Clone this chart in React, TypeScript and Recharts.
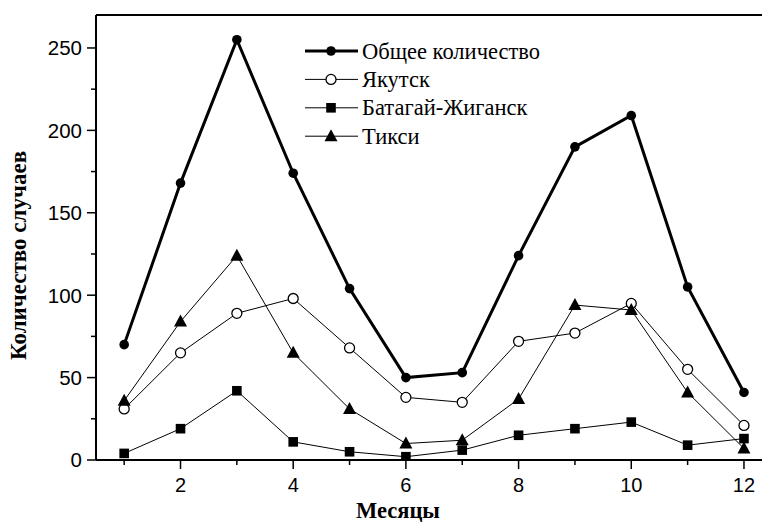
import React from 'react';
import { LineChart, Line, XAxis, YAxis, Legend, ReferenceLine, Label } from 'recharts';

const months = [1, 2, 3, 4, 5, 6, 7, 8, 9, 10, 11, 12];
const total = [70, 168, 255, 174, 104, 50, 53, 124, 190, 209, 105, 41];
const yakutsk = [31, 65, 89, 98, 68, 38, 35, 72, 77, 95, 55, 21];
const batagay = [4, 19, 42, 11, 5, 2, 6, 15, 19, 23, 9, 13];
const tiksi = [36, 84, 124, 65, 31, 10, 12, 37, 94, 91, 41, 7];

const xMajor = [2, 4, 6, 8, 10, 12];
const yTicks = [0, 25, 50, 75, 100, 125, 150, 175, 200, 225, 250];
const yMajor = [0, 50, 100, 150, 200, 250];

const seriesNames = ['Общее количество', 'Якутск', 'Батагай-Жиганск', 'Тикси'];

const data = months.map((m, i) => ({
  month: m,
  total: total[i],
  yakutsk: yakutsk[i],
  batagay: batagay[i],
  tiksi: tiksi[i],
}));

const SERIF = '"Liberation Serif", "Times New Roman", serif';
const SANS = '"Liberation Sans", Arial, sans-serif';

type Kind = 'filled' | 'open' | 'square' | 'triangle';

const Marker = ({ cx, cy, kind }: { cx: number; cy: number; kind: Kind }) => {
  if (cx == null || cy == null) return null;
  if (kind === 'filled') return <circle cx={cx} cy={cy} r={4.8} fill="#000" />;
  if (kind === 'open')
    return <circle cx={cx} cy={cy} r={5} fill="#fff" stroke="#000" strokeWidth={1.3} />;
  if (kind === 'square') return <rect x={cx - 4.8} y={cy - 4.8} width={9.6} height={9.6} fill="#000" />;
  return (
    <polygon
      points={`${cx},${cy - 7} ${cx - 6.5},${cy + 5} ${cx + 6.5},${cy + 5}`}
      fill="#000"
    />
  );
};

const makeDot = (kind: Kind) => (props: any) => (
  <Marker key={`${kind}-${props.index}`} cx={props.cx} cy={props.cy} kind={kind} />
);

const XTick = (props: any) => {
  const { x, y, payload } = props;
  const major = xMajor.includes(payload.value);
  return (
    <g>
      <line x1={x} x2={x} y1={y} y2={y + (major ? 9 : 5)} stroke="#000" strokeWidth={1.5} />
      {major && (
        <text x={x} y={y + 32} textAnchor="middle" fontSize={20} fontFamily={SANS} fill="#000">
          {payload.value}
        </text>
      )}
    </g>
  );
};

const YTick = (props: any) => {
  const { x, y, payload } = props;
  const major = yMajor.includes(payload.value);
  return (
    <g>
      <line x1={x} x2={x - (major ? 9 : 5)} y1={y} y2={y} stroke="#000" strokeWidth={1.5} />
      {major && (
        <text x={x - 14} y={y} dy="0.36em" textAnchor="end" fontSize={20.5} fontFamily={SANS} fill="#000">
          {payload.value}
        </text>
      )}
    </g>
  );
};

const legendItems: { name: string; kind: Kind; width: number }[] = [
  { name: seriesNames[0], kind: 'filled', width: 3 },
  { name: seriesNames[1], kind: 'open', width: 1 },
  { name: seriesNames[2], kind: 'square', width: 1 },
  { name: seriesNames[3], kind: 'triangle', width: 1 },
];

const renderLegend = () => (
  <svg width={270} height={120} style={{ display: 'block' }}>
    {legendItems.map((it, i) => {
      const cy = 14 + i * 28.4;
      return (
        <g key={it.name}>
          <line x1={2} x2={55} y1={cy} y2={cy} stroke="#000" strokeWidth={it.width} />
          <Marker cx={28} cy={cy} kind={it.kind} />
          <text x={59} y={cy} dy="0.34em" fontSize={22.5} fontFamily={SERIF} fill="#000">
            {it.name}
          </text>
        </g>
      );
    })}
  </svg>
);

export default function App() {
  return (
    <div style={{ position: 'absolute', left: 0, top: 0, width: 763, height: 522, background: '#fff' }}>
      <LineChart
        width={763}
        height={522}
        data={data}
        margin={{ top: 15, right: 1, left: 0, bottom: 0 }}
      >
        <XAxis
          dataKey="month"
          type="number"
          domain={[0.5, 12.32]}
          allowDataOverflow
          ticks={months}
          interval={0}
          height={62}
          tickSize={0}
          tickMargin={0}
          tickLine={false}
          axisLine={{ stroke: '#000', strokeWidth: 2 }}
          tick={<XTick />}
        >
          <Label
            content={(p: any) => {
              const vb = p.viewBox || {};
              return (
                <text
                  x={vb.x + vb.width / 2 - 31}
                  y={vb.y + 58}
                  textAnchor="middle"
                  fontSize={22.5}
                  fontWeight="bold"
                  fontFamily={SERIF}
                  fill="#000"
                >
                  Месяцы
                </text>
              );
            }}
          />
        </XAxis>
        <YAxis
          type="number"
          domain={[0, 270]}
          allowDataOverflow
          ticks={yTicks}
          interval={0}
          width={96}
          tickSize={0}
          tickMargin={0}
          tickLine={false}
          axisLine={{ stroke: '#000', strokeWidth: 2 }}
          tick={<YTick />}
        >
          <Label
            content={(p: any) => {
              const vb = p.viewBox || {};
              const cx = vb.x + 18;
              const cy = vb.y + vb.height / 2 + 18;
              return (
                <text
                  x={cx}
                  y={cy}
                  transform={`rotate(-90 ${cx} ${cy})`}
                  textAnchor="middle"
                  dy="0.35em"
                  fontSize={23}
                  fontWeight="bold"
                  fontFamily={SERIF}
                  fill="#000"
                >
                  Количество случаев
                </text>
              );
            }}
          />
        </YAxis>
        <ReferenceLine y={270} stroke="#000" strokeWidth={2} ifOverflow="visible" />
        <Legend
          layout="vertical"
          align="center"
          verticalAlign="middle"
          content={renderLegend}
          wrapperStyle={{ position: 'absolute', left: 303, top: 37, width: 270, height: 120 }}
        />
        <Line
          dataKey="yakutsk"
          name={seriesNames[1]}
          stroke="#000"
          strokeWidth={1}
          dot={makeDot('open')}
          activeDot={false}
          isAnimationActive={false}
        />
        <Line
          dataKey="batagay"
          name={seriesNames[2]}
          stroke="#000"
          strokeWidth={1}
          dot={makeDot('square')}
          activeDot={false}
          isAnimationActive={false}
        />
        <Line
          dataKey="tiksi"
          name={seriesNames[3]}
          stroke="#000"
          strokeWidth={1}
          dot={makeDot('triangle')}
          activeDot={false}
          isAnimationActive={false}
        />
        <Line
          dataKey="total"
          name={seriesNames[0]}
          stroke="#000"
          strokeWidth={3}
          dot={makeDot('filled')}
          activeDot={false}
          isAnimationActive={false}
        />
      </LineChart>
    </div>
  );
}
